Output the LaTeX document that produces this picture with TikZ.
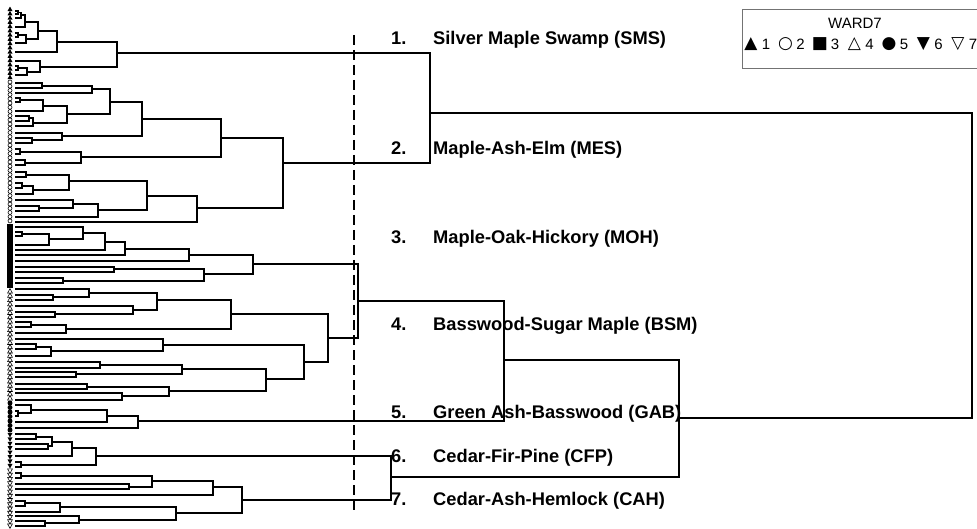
\documentclass[tikz,border=0pt]{standalone}
\usepackage{fontspec}
\setmainfont{Liberation Sans}
\newfontfamily\symfont{DejaVu Sans}
\newcommand\dmerge[5]{\draw[dl] (#2,#3) -- (#1,#3) -- (#1,#5) -- (#4,#5);}
\tikzset{
  dl/.style={line width=1.3pt, line join=miter},
  lbl/.style={anchor=base west, inner sep=0pt, font=\fontsize{18.3}{20}\selectfont\bfseries},
  num/.style={anchor=base west, inner sep=0pt, font=\fontsize{18.3}{20}\selectfont\bfseries},
  leg/.style={inner sep=0pt, font=\fontsize{15}{17}\selectfont},
  legsym/.style={inner sep=0pt, font=\fontsize{17}{19}\selectfont\symfont}
}
\begin{document}
\begin{tikzpicture}[x=1pt,y=-1pt]
\useasboundingbox[fill=white] (0,0) rectangle (977,529);
% symbols
\foreach \i in {0,...,16}{\pgfmathsetmacro\yy{9+\i*4.25}
  \fill (7.5,\yy+2.1) -- (12.5,\yy+2.1) -- (10,\yy-2.4) -- cycle;}
\foreach \i in {0,...,33}{\pgfmathsetmacro\yy{82+\i*4.21}
  \draw[line width=0.6pt] (10,\yy) circle (2.0);}
\fill (7.4,224) rectangle (12.6,288);
\foreach \i in {0,...,25}{\pgfmathsetmacro\yy{291+\i*4.28}
  \draw[line width=0.6pt] (7.6,\yy+2.1) -- (12.4,\yy+2.1) -- (10,\yy-2.3) -- cycle;}
\foreach \i in {0,...,6}{\pgfmathsetmacro\yy{403+\i*4.5}
  \fill (10,\yy) circle (2.5);}
\foreach \i in {0,...,7}{\pgfmathsetmacro\yy{435+\i*4.43}
  \fill (7.5,\yy-2.1) -- (12.5,\yy-2.1) -- (10,\yy+2.4) -- cycle;}
\foreach \i in {0,...,13}{\pgfmathsetmacro\yy{471+\i*4.23}
  \draw[line width=0.6pt] (7.6,\yy-2.1) -- (12.4,\yy-2.1) -- (10,\yy+2.3) -- cycle;}
% SMS
\dmerge{18}{15}{11}{15}{14}
\dmerge{21}{18}{12.5}{15}{18}
\dmerge{25}{21}{15}{15}{27}
\dmerge{18}{15}{33}{15}{37}
\dmerge{26}{18}{35}{15}{43}
\dmerge{38}{25}{22}{26}{39}
\dmerge{57}{38}{31}{15}{52}
\dmerge{18}{15}{66}{15}{70}
\dmerge{27}{18}{68}{15}{75}
\dmerge{40}{15}{61}{27}{72}
\dmerge{117}{57}{42}{40}{67}
% MES
\dmerge{42}{15}{83}{15}{88}
\dmerge{92}{42}{86}{15}{93}
\dmerge{20}{15}{98}{15}{102}
\dmerge{43}{20}{100}{15}{111}
\dmerge{29}{15}{116}{15}{121}
\dmerge{33}{29}{118}{15}{126}
\dmerge{67}{43}{106}{33}{123}
\dmerge{110}{92}{89}{67}{114}
\dmerge{32}{15}{138}{15}{143}
\dmerge{62}{15}{133}{32}{140}
\dmerge{142}{110}{102}{62}{136}
\dmerge{20}{15}{149}{15}{154}
\dmerge{25}{15}{160}{15}{165}
\dmerge{81}{20}{152}{25}{163}
\dmerge{221}{142}{119}{81}{157}
\dmerge{26}{15}{172}{15}{177}
\dmerge{22}{15}{183}{15}{188}
\dmerge{33}{22}{186}{15}{194}
\dmerge{69}{26}{175}{33}{190}
\dmerge{39}{15}{206}{15}{211}
\dmerge{73}{15}{200}{39}{208}
\dmerge{98}{73}{204}{15}{217}
\dmerge{147}{69}{181}{98}{210}
\dmerge{197}{147}{196}{15}{222}
\dmerge{283}{221}{138}{197}{208}
\dmerge{430}{117}{53}{283}{163}
% BSM (black)
\dmerge{22}{15}{232}{15}{236}
\dmerge{49}{22}{234}{15}{245}
\dmerge{83}{15}{227}{49}{239}
\dmerge{105}{83}{233}{15}{250}
\dmerge{125}{105}{242}{15}{255}
\dmerge{189}{125}{249}{15}{261}
\dmerge{114}{15}{267}{15}{272}
\dmerge{63}{15}{278}{15}{283}
\dmerge{204}{114}{269}{63}{281}
\dmerge{253}{189}{255}{204}{274}
% open triangles
\dmerge{53}{15}{295}{15}{300}
\dmerge{89}{15}{289}{53}{297}
\dmerge{55}{15}{312}{15}{317}
\dmerge{133}{15}{306}{55}{314}
\dmerge{157}{89}{293}{133}{310}
\dmerge{31}{15}{322}{15}{327}
\dmerge{66}{31}{325}{15}{333}
\dmerge{231}{157}{300}{66}{329}
\dmerge{36}{15}{344}{15}{349}
\dmerge{51}{36}{347}{15}{356}
\dmerge{163}{15}{339}{51}{351}
\dmerge{100}{15}{362}{15}{368}
\dmerge{76}{15}{372}{15}{377}
\dmerge{182}{100}{365}{76}{374}
\dmerge{87}{15}{384}{15}{389}
\dmerge{122}{15}{393}{15}{400}
\dmerge{169}{87}{387}{122}{396}
\dmerge{266}{182}{369}{169}{391}
\dmerge{304}{163}{345}{266}{379}
\dmerge{328}{231}{314}{304}{362}
\dmerge{358}{253}{264}{328}{338}
% GAB
\dmerge{18}{15}{411}{15}{416}
\dmerge{31}{15}{405}{18}{413}
\dmerge{107}{31}{410}{15}{422}
\dmerge{138}{107}{416}{15}{428}
\dmerge{504}{358}{301}{138}{421}
% CFP
\dmerge{36}{15}{434}{15}{439}
\dmerge{48}{15}{444}{15}{449}
\dmerge{52}{36}{437}{48}{446}
\dmerge{72}{52}{442}{15}{456}
\dmerge{21}{15}{462}{15}{467}
\dmerge{96}{72}{448}{21}{465}
% CAH
\dmerge{21}{15}{473}{15}{478}
\dmerge{129}{15}{484}{15}{489}
\dmerge{152}{21}{476}{129}{487}
\dmerge{213}{152}{481}{15}{495}
\dmerge{25}{15}{501}{15}{506}
\dmerge{60}{25}{503}{15}{512}
\dmerge{45}{15}{521}{15}{526}
\dmerge{79}{15}{516}{45}{523}
\dmerge{176}{60}{507}{79}{520}
\dmerge{242}{213}{487}{176}{513}
\dmerge{391}{96}{456}{242}{500}
\dmerge{679}{504}{360}{391}{477}
\dmerge{972}{430}{113}{679}{418}
% cut line
\draw[line width=1.3pt, dash pattern=on 10pt off 5pt] (354,35) -- (354,510);
% labels
\foreach \n/\t/\yc in {1/Silver Maple Swamp (SMS)/38, 2/Maple-Ash-Elm (MES)/148, 3/Maple-Oak-Hickory (MOH)/237, 4/Basswood-Sugar Maple (BSM)/324, 5/Green Ash-Basswood (GAB)/412, 6/Cedar-Fir-Pine (CFP)/456, 7/Cedar-Ash-Hemlock (CAH)/499}{
  \node[num] (n\n) at (391,\yc+6.5) {\n.};
  \node[lbl] (l\n) at (433,\yc+6.5) {\t};
}
% legend
\draw[line width=0.6pt, draw=black!55] (742,9) rectangle (990,68);
\node[leg] (wt) at (855,23) {WARD7};
\foreach \k/\s/\d in {0/▲/1, 1/○/2, 2/■/3, 3/△/4, 4/●/5, 5/▼/6, 6/▽/7}{
  \node[legsym] (s\d) at (751+34.5*\k,44) {\s};
  \node[leg] (d\d) at (766+34.5*\k,44) {\d};
}
\end{tikzpicture}
\end{document}
